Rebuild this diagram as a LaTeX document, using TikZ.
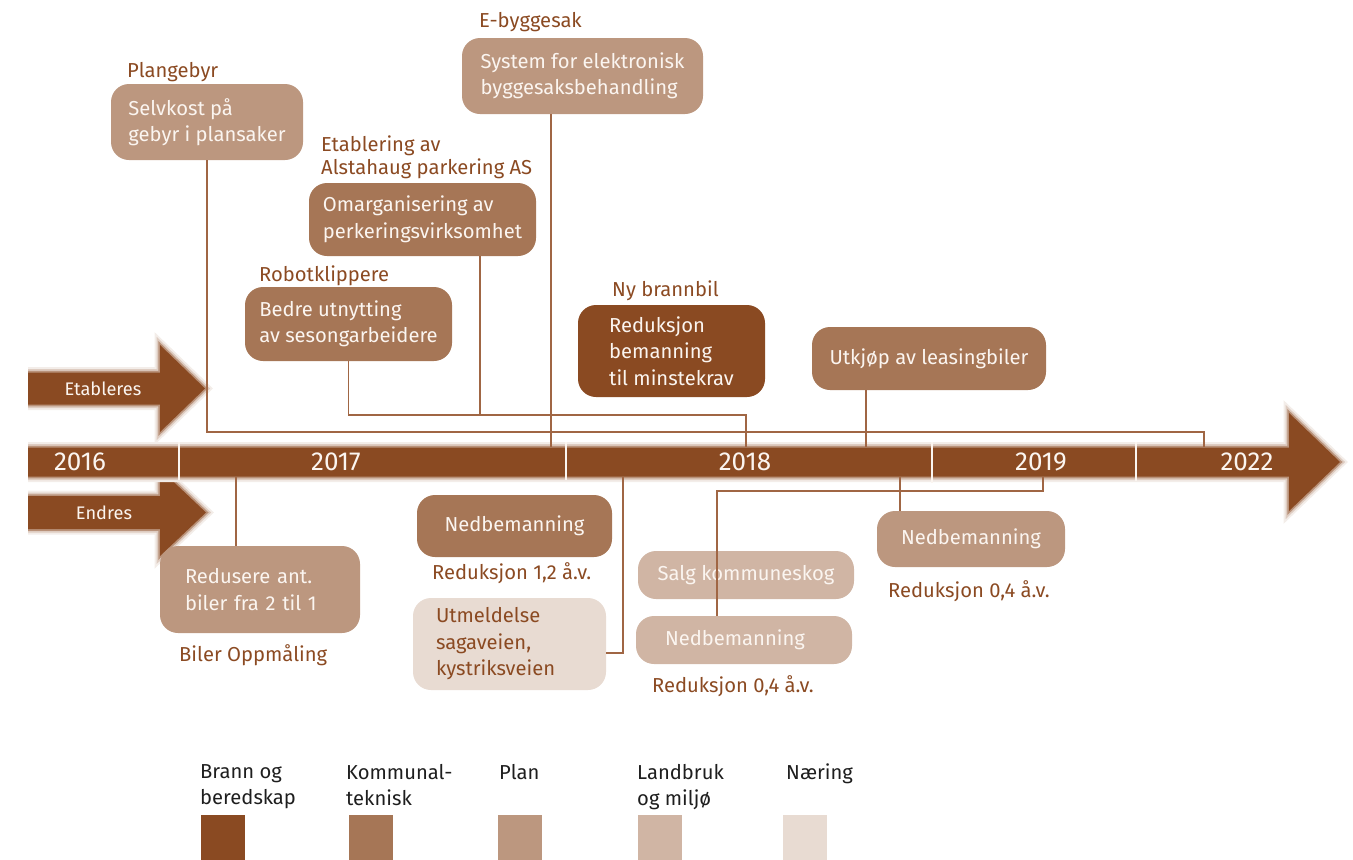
\documentclass[tikz,border=0pt]{standalone}
\usepackage{fontspec}
\setmainfont{Fira Sans}
\definecolor{cBrann}{HTML}{8A4A22}
\definecolor{cKomm}{HTML}{A67656}
\definecolor{cPlan}{HTML}{BC977F}
\definecolor{cLand}{HTML}{D0B5A4}
\definecolor{cNaer}{HTML}{E8DBD2}
\definecolor{cLine}{HTML}{A06644}
\definecolor{cLabel}{HTML}{8B4A22}
\definecolor{cBoxText}{HTML}{FBF5F0}
\definecolor{cLeg}{HTML}{1E1E1E}
\newcommand{\bxfont}{\fontsize{20.2}{26.5}\selectfont}
\newcommand{\yrfont}{\fontsize{26}{30}\selectfont}
\newcommand{\arfont}{\fontsize{18.2}{21}\selectfont}
\begin{document}
\begin{tikzpicture}[x=1pt,y=-1pt,
  box/.style={rounded corners=18, inner xsep=12, inner ysep=0, text=cBoxText, font=\bxfont, align=left},
  lbl/.style={anchor=base west, inner sep=0, text=cLabel, font=\bxfont, align=left},
  leg/.style={anchor=north west, inner sep=0, text=cLeg, font=\bxfont, align=left},
  swatch/.style={minimum width=44, minimum height=46, inner sep=0},
  yr/.style={text=cBoxText, font=\yrfont, inner sep=0},
  conn/.style={draw=cLine, line width=1.3},
  fuzzy/.style={fill=cBrann, line join=round,
    preaction={draw=cBrann!10, line width=11},
    preaction={draw=cBrann!28, line width=7},
    preaction={draw=cBrann!60, line width=3.5}},
  divider/.style={draw=cBoxText, line width=1.2}]
\useasboundingbox (0,0) rectangle (1353,860);

% side arrows
\begin{scope}
\clip (28,300) rectangle (400,600);
\path[fuzzy] (20,372.5) -- (160,372.5) -- (160,345) -- (205,388.5) -- (160,432) -- (160,404.5) -- (20,404.5) -- cycle;
\path[fuzzy] (20,496) -- (160,496) -- (160,469) -- (206,512.5) -- (160,556) -- (160,529) -- (20,529) -- cycle;
\end{scope}
\node[text=cBoxText, font=\arfont] (etab) at (103,388.5) {Etableres};
\node[text=cBoxText, font=\arfont] (endr) at (104,512.5) {Endres};

% timeline
\begin{scope}
\clip (28,380) rectangle (1353,540);
\path[fuzzy] (20,447.5) -- (1289,447.5) -- (1289,413) -- (1340,462) -- (1289,511) -- (1289,476.5) -- (20,476.5) -- cycle;
\end{scope}
\coordinate (d1a) at (179,442); \coordinate (d1b) at (179,480);
\coordinate (d2a) at (566,442); \coordinate (d2b) at (566,480);
\coordinate (d3a) at (932,442); \coordinate (d3b) at (932,483);
\coordinate (d4a) at (1136,442); \coordinate (d4b) at (1136,481);
\draw[divider] (d1a) -- (d1b);
\draw[divider] (d2a) -- (d2b);
\draw[divider] (d3a) -- (d3b);
\draw[divider] (d4a) -- (d4b);
\node[yr] (y2016) at (80,462) {2016};
\node[yr] (y2017) at (336,462) {2017};
\node[yr] (y2018) at (745,462) {2018};
\node[yr] (y2019) at (1041,462) {2019};
\node[yr] (y2022) at (1247,462) {2022};

% boxes above
\node[box, fill=cPlan, minimum width=192, minimum height=76] (selvkost) at (207,122) {Selvkost på\\gebyr i plansaker};
\node[box, fill=cPlan, minimum width=241, minimum height=76] (ebygg) at (582.5,76) {System for elektronisk\\byggesaksbehandling};
\node[box, fill=cKomm, minimum width=227, minimum height=73] (omarg) at (422.5,219.5) {Omarganisering av\\perkeringsvirksomhet};
\node[box, fill=cKomm, minimum width=207, minimum height=74] (robot) at (348.5,324) {Bedre utnytting\\av sesongarbeidere};
\node[box, fill=cBrann, minimum width=187, minimum height=92] (brann) at (671.5,351) {Reduksjon\\bemanning\\til minstekrav};
\node[box, fill=cKomm, minimum width=234, minimum height=63] (utkjop) at (929,358.5) {Utkjøp av leasingbiler};

% boxes below
\node[box, fill=cPlan, minimum height=87, inner xsep=25, text width=150] (redusere) at (260,589.5) {Redusere ant.\\biler fra 2 til 1};
\node[box, fill=cKomm, minimum width=195, minimum height=62] (nedb12) at (514.5,526) {Nedbemanning};
\node[box, fill=cNaer, text=cLabel, minimum height=92, inner xsep=23, text width=147] (utmeld) at (509.5,644) {Utmeldelse\\sagaveien,\\kystriksveien};
\node[box, fill=cLand, minimum width=216, minimum height=48] (salg) at (746,575) {Salg kommuneskog};
\node[box, fill=cLand, minimum height=48, inner xsep=29, text width=158] (nedbL) at (744,640) {Nedbemanning};
\node[box, fill=cPlan, minimum width=188, minimum height=56] (nedbR) at (971,539) {Nedbemanning};

% labels
\node[lbl] (lPlan) at (127,77) {Plangebyr};
\node[lbl] (lEbygg) at (479,27.5) {E-byggesak};
\node[lbl] (lEtab1) at (321,151) {Etablering av};
\node[lbl] (lEtab2) at (321,174) {Alstahaug parkering AS};
\node[lbl] (lRobot) at (259,281) {Robotklippere};
\node[lbl] (lBrann) at (612,296) {Ny brannbil};
\node[lbl] (lRed12) at (432,579) {Reduksjon 1,2 å.v.};
\node[lbl] (lBiler) at (179,661) {Biler Oppmåling};
\node[lbl] (lRedL) at (652,692) {Reduksjon 0,4 å.v.};
\node[lbl] (lRedR) at (888,597) {Reduksjon 0,4 å.v.};

% connectors
\coordinate (jPlan) at (1204,432); \coordinate (tPlan) at (1204,447);
\draw[conn] (selvkost.south) |- (jPlan) -- (tPlan);
\coordinate (jRob) at (746,415); \coordinate (tRob) at (746,447);
\draw[conn] (robot.south) |- (jRob) -- (tRob);
\coordinate (xOm) at (480,0);
\draw[conn] (omarg.south -| xOm) -- (xOm |- jRob);
\coordinate (tEb) at (551,447);
\draw[conn] (ebygg.south -| tEb) -- (tEb);
\coordinate (tUt) at (866,447);
\draw[conn] (utkjop.south -| tUt) -- (tUt);
\coordinate (bRed) at (236,477);
\draw[conn] (bRed) -- (bRed |- redusere.north);
\coordinate (bUtm) at (623,477);
\draw[conn] ([yshift=-9pt]utmeld.east) -| (bUtm);
\coordinate (jNL) at (717,491); \coordinate (bNL) at (1043,477);
\draw[conn] (nedbL.north -| jNL) -- (jNL) -| (bNL);
\coordinate (bNR) at (900,477);
\draw[conn] (bNR) -- (bNR |- nedbR.north);

% legend
\node[leg] (gBrann) at (200,764) {Brann og\\beredskap};
\node[leg] (gKomm) at (346,764) {Kommunal-\\teknisk};
\node[leg] (gPlan) at (499,764) {Plan};
\node[leg] (gLand) at (637,764) {Landbruk\\og miljø};
\node[leg] (gNaer) at (786,764) {Næring};
\node[swatch, fill=cBrann, anchor=north west] (sBrann) at (201,815) {};
\node[swatch, fill=cKomm, anchor=north west] (sKomm) at (349,815) {};
\node[swatch, fill=cPlan, anchor=north west] (sPlan) at (498,815) {};
\node[swatch, fill=cLand, anchor=north west] (sLand) at (638,815) {};
\node[swatch, fill=cNaer, anchor=north west] (sNaer) at (783,815) {};
\end{tikzpicture}
\end{document}
